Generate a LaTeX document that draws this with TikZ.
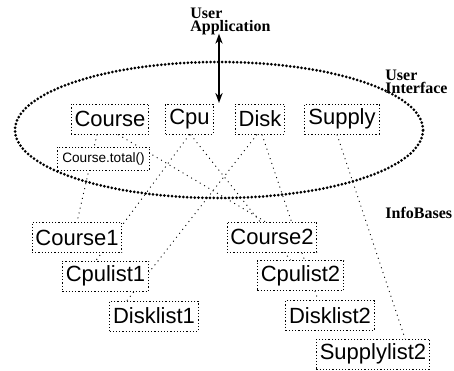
\documentclass[tikz,border=0pt]{standalone}
\usepackage{fontspec}
\setmainfont{Liberation Serif}
\setsansfont{Liberation Sans}
\usetikzlibrary{arrows.meta}
\usetikzlibrary{backgrounds}

\begin{document}
\begin{tikzpicture}[x=0.5pt,y=-0.5pt,
  cls/.style={draw,fill=white,line width=0.5pt,dash pattern=on 0.6pt off 1pt,font=\sffamily\fontsize{11}{12}\selectfont,minimum height=15pt,inner xsep=1.7pt,inner ysep=0pt},
  meth/.style={cls,font=\sffamily\fontsize{6.8}{8}\selectfont,minimum height=11.5pt,inner xsep=2.5pt},
  link/.style={line width=0.45pt,dash pattern=on 0.5pt off 2pt},
  ring/.style={line width=1.5pt,dash pattern=on 0pt off 1.9pt,line cap=round},
  lbl/.style={font=\bfseries\fontsize{8}{6.5}\selectfont,align=left,inner sep=0pt}]
\useasboundingbox (0,0) rectangle (454,370);

% labels
\node[lbl,anchor=north west] (app) at (190,8) {User\\Application};
\node[lbl,anchor=north west] (ui) at (385,70) {User\\Interface};
\node[lbl,anchor=west] (ib) at (385,213) {InfoBases};

% user interface classes
\node[cls] (course) at (110,119) {Course};
\node[cls] (cpu) at (189.5,119) {Cpu};
\node[cls] (disk) at (260,119) {Disk};
\node[cls] (supply) at (342,119) {Supply};
\node[meth] (total) at (103.5,158.5) {Course.total()};

% infobases
\node[cls] (course1) at (77,237.5) {Course1};
\node[cls] (cpulist1) at (105.5,276) {Cpulist1};
\node[cls] (disklist1) at (154,316) {Disklist1};
\node[cls] (course2) at (272,237) {Course2};
\node[cls] (cpulist2) at (300.5,275.5) {Cpulist2};
\node[cls] (disklist2) at (330,315.5) {Disklist2};
\node[cls] (supplylist2) at (373,354) {Supplylist2};

\draw[ring] (219,130) ellipse [x radius=102pt, y radius=34pt];

\coordinate (appin) at (219,103);
\draw[line width=0.9pt,{Stealth[length=5pt,width=3.6pt]}-{Stealth[length=5pt,width=3.6pt]}] (appin |- app.south) ++(0,-2) -- (appin);

\begin{scope}[on background layer]
\draw[link] ([xshift=-6.5pt]course.south) -- (course1.north);
\draw[link] ([xshift=4pt]course.south) -- ([xshift=-3.5pt]course2.north);
\draw[link] (cpu.south) -- ([xshift=-4.75pt]cpulist1.north);
\draw[link] ([xshift=0.5pt]cpu.south) -- ([xshift=-5pt]cpulist2.north);
\draw[link] ([xshift=-1.5pt]disk.south) -- ([xshift=-13.5pt]disklist1.north);
\draw[link] ([xshift=1pt]disk.south) -- ([xshift=-6pt]disklist2.north);
\draw[link] ([xshift=-2.5pt]supply.south) -- ([xshift=16pt]supplylist2.north);
\end{scope}

\end{tikzpicture}
\end{document}
